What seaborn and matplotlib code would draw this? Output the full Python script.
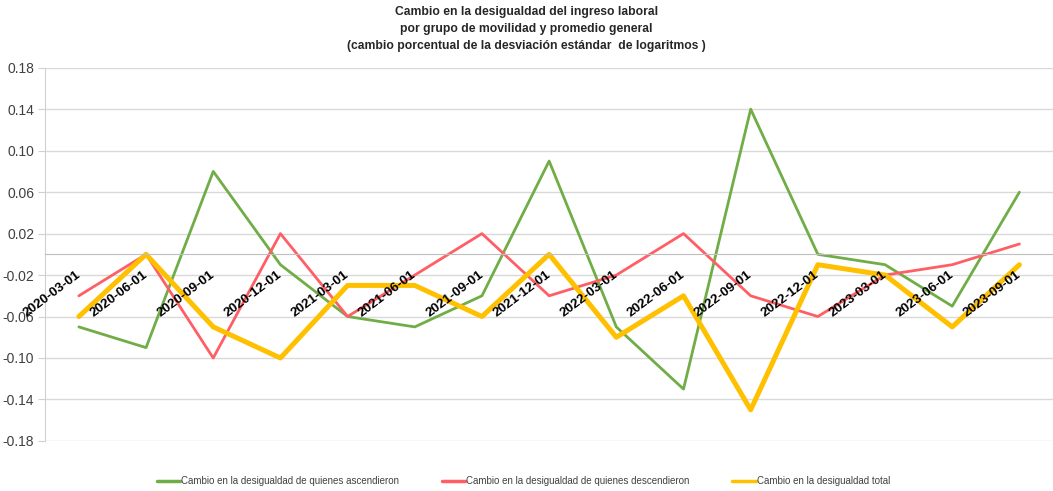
import numpy as np
import pandas as pd
import matplotlib
matplotlib.use("Agg")
import matplotlib.pyplot as plt
import seaborn as sns

sns.set_style("white")
plt.rcParams["font.family"] = ["Liberation Sans", "DejaVu Sans"]

fechas = ["2020-03-01", "2020-06-01", "2020-09-01", "2020-12-01",
          "2021-03-01", "2021-06-01", "2021-09-01", "2021-12-01",
          "2022-03-01", "2022-06-01", "2022-09-01", "2022-12-01",
          "2023-03-01", "2023-06-01", "2023-09-01"]

ascendieron = [-0.07, -0.09, 0.08, -0.01, -0.06, -0.07, -0.04, 0.09,
               -0.07, -0.13, 0.14, 0.00, -0.01, -0.05, 0.06]
descendieron = [-0.04, 0.00, -0.10, 0.02, -0.06, -0.02, 0.02, -0.04,
                -0.02, 0.02, -0.04, -0.06, -0.02, -0.01, 0.01]
total = [-0.06, 0.00, -0.07, -0.10, -0.03, -0.03, -0.06, 0.00,
         -0.08, -0.04, -0.15, -0.01, -0.02, -0.07, -0.01]

series = {
    "Cambio en la desigualdad de quienes ascendieron": ascendieron,
    "Cambio en la desigualdad de quienes descendieron": descendieron,
    "Cambio en la desigualdad total": total,
}
colors = ["#70AD47", "#FF5F64", "#FFC000"]
widths = [2.0, 2.0, 3.6]

fig = plt.figure(figsize=(10.53, 4.91), dpi=100)
ax = fig.add_axes([0.043, 0.102, 0.957, 0.760])

for (name, vals), c, w in zip(series.items(), colors, widths):
    df = pd.DataFrame({"x": np.arange(len(fechas)), "y": vals})
    sns.lineplot(data=df, x="x", y="y", color=c, linewidth=w, label=name, ax=ax)

ax.set_xlim(-0.5, len(fechas) - 0.5)
ax.set_ylim(-0.18, 0.18)
yt = np.arange(-0.18, 0.181, 0.04)
ax.set_yticks(yt)
ax.set_yticklabels([f"{v:.2f}" for v in yt], fontsize=10, color="#404040")
ax.grid(True, axis="y", color="#d9d9d9", linewidth=1)
ax.set_xlabel("")
ax.set_ylabel("")

# x axis crosses at zero, labels drawn over the lines
for s in ["top", "right"]:
    ax.spines[s].set_visible(False)
ax.spines["bottom"].set_position(("data", 0))
ax.spines["bottom"].set_color("#bfbfbf")
ax.spines["left"].set_color("#d0d0d0")
ax.xaxis.set_zorder(5)
ax.set_xticks(np.arange(len(fechas)))
ax.set_xticklabels(fechas, rotation=37, ha="right", va="center",
                   rotation_mode="anchor", fontsize=9.7, fontweight="bold",
                   color="black")
ax.set_xticks(np.arange(len(fechas)) + 0.5, minor=True)
ax.tick_params(axis="x", which="major", length=0, pad=14)
ax.tick_params(axis="x", which="minor", length=5, color="#bfbfbf", direction="out")
ax.tick_params(axis="y", length=5, color="#d0d0d0", left=True, pad=3)

fig.suptitle("Cambio en la desigualdad del ingreso laboral\n"
             "por grupo de movilidad y promedio general\n"
             "(cambio porcentual de la desviación estándar  de logaritmos )",
             fontsize=8.7, fontweight="bold", y=0.988, linespacing=1.55)

ax.legend_.remove()
handles, labels = ax.get_legend_handles_labels()
leg = fig.legend(handles, labels, loc="center", bbox_to_anchor=(0.497, 0.02),
                 ncol=3, frameon=False, fontsize=7, handlelength=2.4,
                 handletextpad=0.1, columnspacing=4.4, labelcolor="#404040")
for line in leg.get_lines():
    line.set_linewidth(2.5)

fig.savefig("out.png", dpi=100)
